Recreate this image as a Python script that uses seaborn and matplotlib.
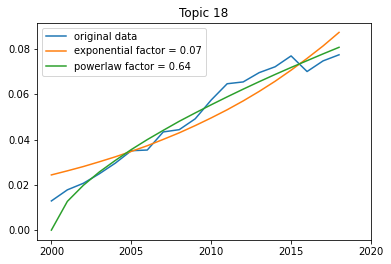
import seaborn as sns
import pandas as pd
import matplotlib.pyplot as plt

years = list(range(2000, 2019))
original = [0.0129, 0.0178, 0.0207, 0.0249, 0.0296, 0.0351, 0.0354, 0.0434, 0.0444, 0.0492,
            0.0575, 0.0647, 0.0655, 0.0696, 0.0722, 0.0770, 0.0701, 0.0748, 0.0775]
exponential = [0.0244, 0.0262, 0.0281, 0.0302, 0.0324, 0.0348, 0.0373, 0.0401, 0.0430, 0.0462,
               0.0496, 0.0532, 0.0571, 0.0613, 0.0658, 0.0707, 0.0759, 0.0814, 0.0874]
powerlaw = [0.0, 0.0127, 0.0198, 0.0257, 0.0308, 0.0356, 0.0400, 0.0441, 0.0481, 0.0518,
            0.0554, 0.0589, 0.0623, 0.0656, 0.0688, 0.0719, 0.0749, 0.0779, 0.0808]
labels = ["original data", "exponential factor = 0.07", "powerlaw factor = 0.64"]

data = pd.DataFrame({"year": years, labels[0]: original, labels[1]: exponential, labels[2]: powerlaw})
data = data.melt(id_vars="year", var_name="series", value_name="value")

fig = plt.figure(figsize=(391 / 72, 264 / 72), dpi=72)
ax = fig.add_axes([37 / 391, 24 / 264, 334 / 391, 217.5 / 264])
sns.lineplot(data=data, x="year", y="value", hue="series", hue_order=labels,
             palette=["#1f77b4", "#ff7f0e", "#2ca02c"], linewidth=1.5, ax=ax)
ax.set_xlim(right=2020)
ax.set_xticks([2000, 2005, 2010, 2015, 2020])
ax.set_xlabel("")
ax.set_ylabel("")
ax.set_title("Topic 18", fontsize=12)
ax.tick_params(labelsize=10)
ax.legend(title=None, loc="upper left", fontsize=10)
fig.savefig("out.png", dpi=72)
